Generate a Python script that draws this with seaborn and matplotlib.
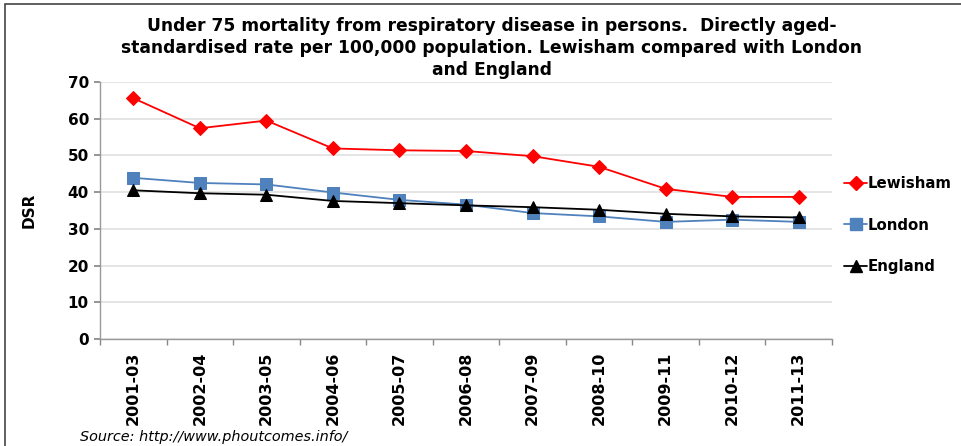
import matplotlib
matplotlib.use("Agg")
import matplotlib.pyplot as plt
import seaborn as sns
import pandas as pd
from matplotlib.lines import Line2D
from matplotlib.patches import Rectangle

periods = ["2001-03", "2002-04", "2003-05", "2004-06", "2005-07", "2006-08",
           "2007-09", "2008-10", "2009-11", "2010-12", "2011-13"]
lewisham = [65.6, 57.4, 59.5, 51.9, 51.4, 51.2, 49.8, 46.9, 40.9, 38.7, 38.7]
london = [43.9, 42.5, 42.1, 39.9, 37.9, 36.6, 34.3, 33.4, 31.9, 32.5, 31.9]
england = [40.5, 39.7, 39.3, 37.6, 37.0, 36.4, 35.9, 35.2, 34.1, 33.4, 33.1]
series_names = ["Lewisham", "London", "England"]

title = ("Under 75 mortality from respiratory disease in persons.  Directly aged-\n"
         "standardised rate per 100,000 population. Lewisham compared with London\n"
         "and England")

rows = []
for name, vals in zip(series_names, [lewisham, london, england]):
    for i, (p, v) in enumerate(zip(periods, vals)):
        rows.append({"idx": i, "period": p, "area": name, "value": v})
df = pd.DataFrame(rows)

sns.set_theme(style="white")
plt.rcParams['font.family'] = ['DejaVu Sans']
plt.rcParams['text.color'] = 'black'
plt.rcParams['axes.labelcolor'] = 'black'
plt.rcParams['xtick.color'] = 'black'
plt.rcParams['ytick.color'] = 'black'

colors = {"Lewisham": "#ff0000", "London": "#4f81bd", "England": "#000000"}
markers = {"Lewisham": "D", "London": "s", "England": "^"}
msizes = {"Lewisham": 7, "London": 8.5, "England": 8.5}

fig = plt.figure(figsize=(9.62, 4.46), dpi=100)
ax = fig.add_axes([100/962, 1-339/446, (832-100)/962, (339-82)/446])

for name in series_names:
    sub = df[df["area"] == name]
    sns.lineplot(data=sub, x="idx", y="value", ax=ax, color=colors[name],
                 marker=markers[name], markersize=msizes[name],
                 markeredgecolor=colors[name], linewidth=1.3, sort=False,
                 legend=False)

ax.set_xlim(-0.5, len(periods) - 0.5)
ax.set_ylim(0, 70)
ax.set_yticks(range(0, 71, 10))
ax.yaxis.grid(True, color="#e3e3e3", linewidth=1.3)
ax.set_axisbelow(True)
ax.set_xticks(range(len(periods)))
ax.set_xticks([i - 0.5 for i in range(len(periods) + 1)], minor=True)
ax.tick_params(axis="x", which="major", length=0, pad=9, labelcolor="black")
ax.tick_params(axis="x", which="minor", length=4, color="#888888", direction="out", bottom=True)
ax.tick_params(axis="y", length=4, color="#888888", direction="out", left=True, pad=4,
               labelcolor="black")
ax.set_xticklabels(periods, rotation=90, fontsize=11.5, fontweight="bold")
for lab in ax.get_xticklabels():
    lab.set_fontweight("bold")
for lab in ax.get_yticklabels():
    lab.set_fontweight("bold")
    lab.set_fontsize(11)
ax.set_xlabel("")
ax.set_ylabel("DSR", fontsize=11, fontweight="bold", labelpad=22, color="black")
for s in ["top", "right"]:
    ax.spines[s].set_visible(False)
for s in ["left", "bottom"]:
    ax.spines[s].set_color("#999999")
    ax.spines[s].set_linewidth(1.0)

fig.text(492/962, 1-17/446, title, ha="center", va="top", fontsize=12.3,
         fontweight="bold", linespacing=1.27, color="black")

handles = [Line2D([0], [0], color=colors[n], marker=markers[n], markersize=msizes[n],
                  linewidth=1.3) for n in series_names]
fig.legend(handles, series_names, loc="center left", bbox_to_anchor=(831/962, 1-225/446),
           frameon=False, handlelength=1.5, handletextpad=0.05, labelspacing=1.75,
           prop={"weight": "bold", "size": 10.8}, labelcolor="black")

fig.text(80/962, 1-437/446, "Source: http://www.phoutcomes.info/", ha="left", va="center",
         fontsize=10.4, style="italic", color="black")

fig.patches.append(Rectangle((5/962, -0.1), 1.2, 1.1 - 4/446, transform=fig.transFigure,
                             fill=False, edgecolor="#444444", linewidth=1.2, figure=fig))

fig.savefig("out.png", dpi=100)
